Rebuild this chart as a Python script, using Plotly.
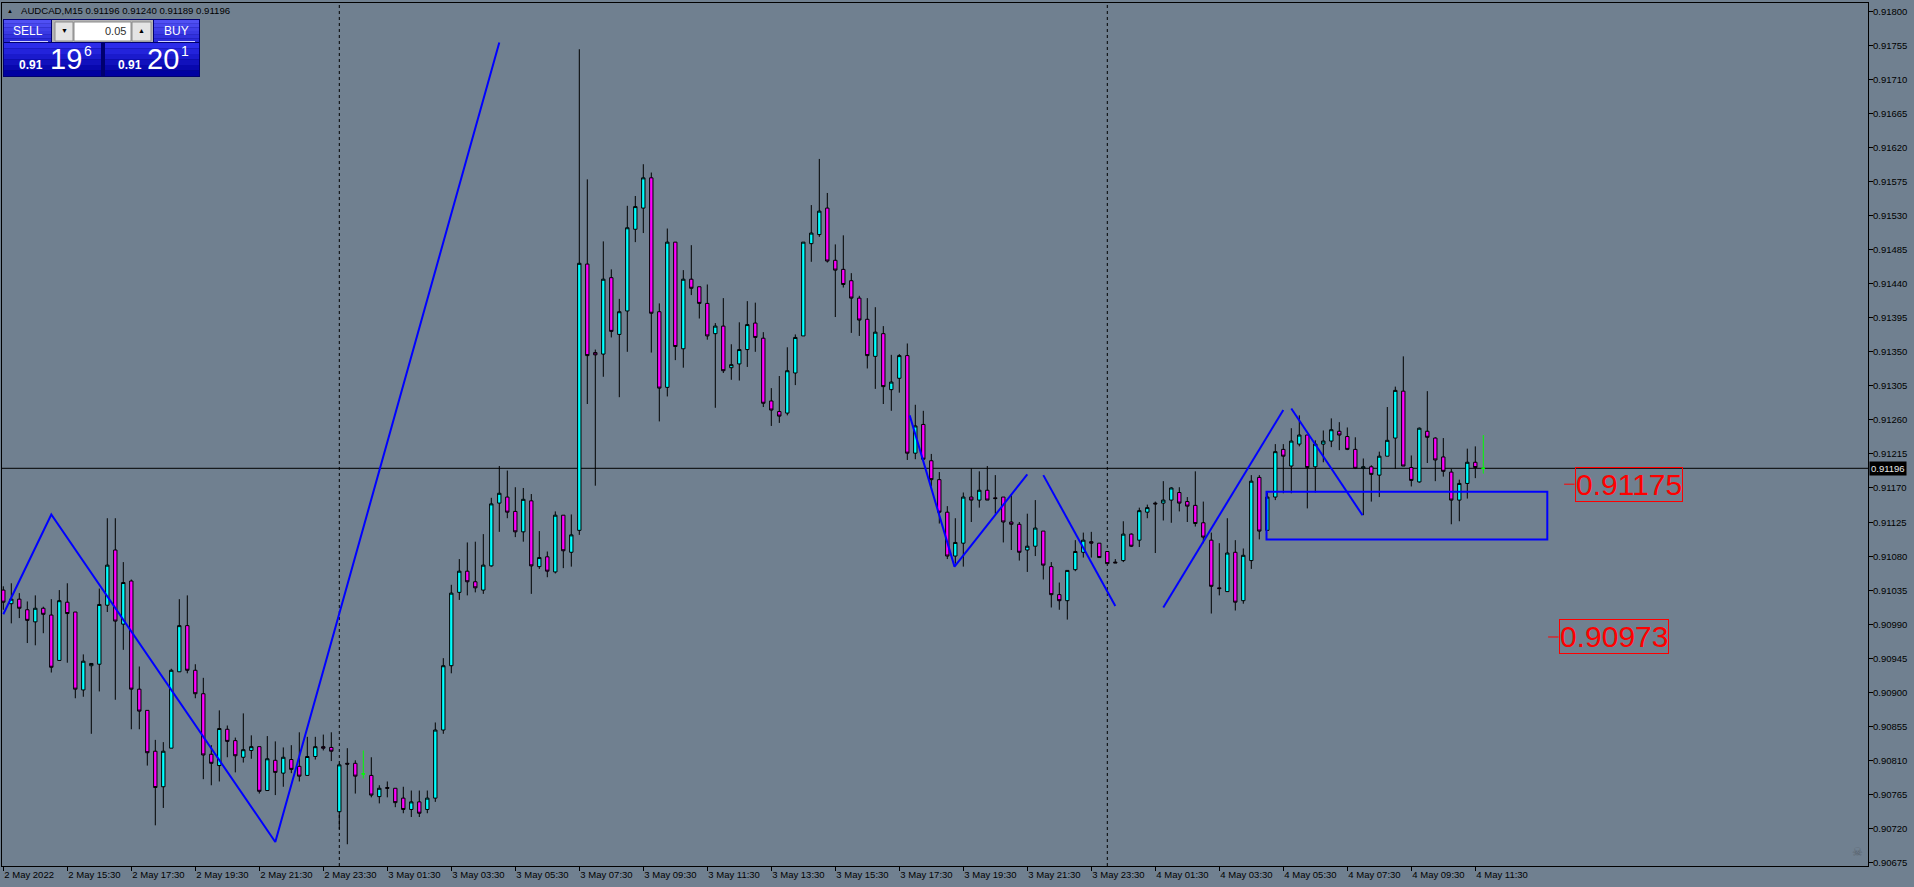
import plotly.graph_objects as go

# ---------------- DATA (AUDCAD M15) ----------------
open_ = [0.91035,0.91017,0.91023,0.91009,0.90993,0.91011,0.91002,0.90942,0.91019,0.91006,
         0.90903,0.90935,0.90937,0.91015,0.91088,0.90990,0.91047,0.90904,0.90876,0.90822,
         0.90775,0.90826,0.90927,0.90988,0.90929,0.90898,0.90818,0.90803,0.90851,0.90836,
         0.90814,0.90823,0.90828,0.90770,0.90810,0.90793,0.90811,0.90802,0.90790,0.90815,
         0.90828,0.90827,0.90742,0.90806,0.90806,0.90792,0.90790,0.90762,0.90774,0.90773,
         0.90760,0.90745,0.90755,0.90745,0.90760,0.90850,0.90935,0.91032,0.91060,0.91046,
         0.91035,0.91067,0.91150,0.91158,0.91139,0.91112,0.91153,0.91066,0.91079,0.91059,
         0.91134,0.91085,0.91114,0.91466,0.91349,0.91347,0.91448,0.91373,0.91404,0.91512,
         0.91540,0.91580,0.91403,0.91303,0.91495,0.91354,0.91446,0.91436,0.91414,0.91374,
         0.91384,0.91329,0.91334,0.91353,0.91388,0.91368,0.91285,0.91271,0.91269,0.91322,
         0.91371,0.91493,0.91505,0.91540,0.91471,0.91459,0.91444,0.91421,0.91393,0.91344,
         0.91374,0.91300,0.91315,0.91345,0.91216,0.91254,0.91206,0.91181,0.91138,0.91080,
         0.91097,0.91158,0.91154,0.91167,0.91157,0.91158,0.91125,0.91122,0.91088,0.91093,
         0.91113,0.91066,0.91029,0.91021,0.91062,0.91085,0.91099,0.91097,0.91086,0.91072,
         0.91074,0.91109,0.91101,0.91138,0.91150,0.91150,0.91154,0.91164,0.91152,0.91147,
         0.91124,0.91101,0.91038,0.91033,0.91085,0.91021,0.91074,0.91184,0.91114,0.91158,
         0.91221,0.91199,0.91228,0.91240,0.91198,0.91228,0.91232,0.91245,0.91238,0.91221,
         0.91196,0.91198,0.91187,0.91212,0.91236,0.91298,0.91197,0.91178,0.91245,0.91236,
         0.91211,0.91191,0.91154,0.91176,0.91204,0.91196]
high = [0.91040,0.91044,0.91031,0.91020,0.91028,0.91013,0.91023,0.91035,0.91044,0.91006,
        0.90950,0.90938,0.91037,0.91130,0.91130,0.91072,0.91049,0.90934,0.90876,0.90837,
        0.90834,0.90931,0.91023,0.91028,0.90937,0.90919,0.90830,0.90876,0.90856,0.90840,
        0.90872,0.90843,0.90828,0.90842,0.90835,0.90827,0.90830,0.90847,0.90841,0.90841,
        0.90844,0.90847,0.90806,0.90826,0.90810,0.90823,0.90814,0.90777,0.90782,0.90773,
        0.90775,0.90770,0.90770,0.90770,0.90860,0.90945,0.91042,0.91076,0.91098,0.91099,
        0.91109,0.91157,0.91199,0.91193,0.91171,0.91170,0.91162,0.91113,0.91086,0.91139,
        0.91134,0.91135,0.91750,0.91578,0.91353,0.91496,0.91459,0.91420,0.91543,0.91556,
        0.91598,0.91587,0.91414,0.91513,0.91495,0.91458,0.91491,0.91436,0.91439,0.91388,
        0.91421,0.91360,0.91389,0.91417,0.91415,0.91376,0.91302,0.91318,0.91356,0.91373,
        0.91495,0.91544,0.91605,0.91560,0.91492,0.91504,0.91454,0.91424,0.91421,0.91409,
        0.91384,0.91346,0.91347,0.91361,0.91280,0.91272,0.91215,0.91191,0.91146,0.91130,
        0.91164,0.91196,0.91192,0.91199,0.91187,0.91158,0.91162,0.91125,0.91136,0.91154,
        0.91113,0.91072,0.91045,0.91061,0.91101,0.91111,0.91112,0.91097,0.91086,0.91076,
        0.91126,0.91110,0.91144,0.91148,0.91152,0.91179,0.91171,0.91171,0.91158,0.91192,
        0.91152,0.91111,0.91097,0.91130,0.91101,0.91090,0.91187,0.91187,0.91164,0.91228,
        0.91228,0.91249,0.91266,0.91240,0.91233,0.91246,0.91262,0.91257,0.91250,0.91237,
        0.91209,0.91200,0.91218,0.91277,0.91304,0.91344,0.91213,0.91250,0.91298,0.91237,
        0.91236,0.91195,0.91181,0.91222,0.91225,0.91240]
low = [0.91009,0.90991,0.90998,0.90965,0.90962,0.90978,0.90926,0.90942,0.90939,0.90892,
       0.90894,0.90845,0.90901,0.91006,0.90890,0.90956,0.90851,0.90851,0.90803,0.90724,
       0.90747,0.90826,0.90927,0.90925,0.90892,0.90785,0.90777,0.90782,0.90814,0.90794,
       0.90807,0.90812,0.90766,0.90770,0.90764,0.90775,0.90793,0.90782,0.90790,0.90811,
       0.90823,0.90809,0.90719,0.90699,0.90766,0.90786,0.90761,0.90753,0.90761,0.90748,
       0.90740,0.90735,0.90735,0.90740,0.90755,0.90845,0.90925,0.91022,0.91028,0.91032,
       0.91030,0.91066,0.91112,0.91130,0.91105,0.91099,0.91030,0.91063,0.91052,0.91057,
       0.91064,0.91066,0.91108,0.91281,0.91173,0.91317,0.91369,0.91290,0.91350,0.91495,
       0.91507,0.91349,0.91258,0.91291,0.91339,0.91329,0.91425,0.91394,0.91366,0.91276,
       0.91322,0.91313,0.91312,0.91330,0.91350,0.91277,0.91252,0.91256,0.91266,0.91306,
       0.91371,0.91469,0.91502,0.91468,0.91396,0.91435,0.91375,0.91371,0.91328,0.91301,
       0.91281,0.91272,0.91296,0.91207,0.91208,0.91208,0.91172,0.91123,0.91076,0.91070,
       0.91066,0.91125,0.91144,0.91154,0.91136,0.91098,0.91088,0.91074,0.91059,0.91080,
       0.91049,0.91012,0.91009,0.90996,0.91060,0.91078,0.91078,0.91078,0.91070,0.91071,
       0.91072,0.91092,0.91092,0.91130,0.91084,0.91127,0.91124,0.91139,0.91125,0.91119,
       0.91097,0.91004,0.91028,0.91033,0.91008,0.91017,0.91063,0.91102,0.91114,0.91154,
       0.91163,0.91163,0.91225,0.91143,0.91164,0.91204,0.91224,0.91220,0.91220,0.91195,
       0.91134,0.91152,0.91158,0.91212,0.91195,0.91199,0.91172,0.91177,0.91203,0.91179,
       0.91185,0.91122,0.91126,0.91156,0.91183,0.91189]
close = [0.91019,0.91023,0.91011,0.90995,0.91011,0.91003,0.90933,0.91021,0.91004,0.90904,
         0.90941,0.90938,0.91016,0.91068,0.90994,0.91045,0.90904,0.90875,0.90820,0.90774,
         0.90822,0.90929,0.90988,0.90929,0.90898,0.90817,0.90806,0.90852,0.90835,0.90816,
         0.90824,0.90828,0.90769,0.90812,0.90794,0.90814,0.90798,0.90789,0.90815,0.90828,
         0.90826,0.90822,0.90804,0.90805,0.90789,0.90792,0.90764,0.90773,0.90773,0.90754,
         0.90745,0.90755,0.90740,0.90760,0.90850,0.90935,0.91031,0.91060,0.91046,0.91038,
         0.91068,0.91149,0.91163,0.91138,0.91112,0.91155,0.91067,0.91078,0.91060,0.91134,
         0.91087,0.91108,0.91467,0.91345,0.91346,0.91446,0.91377,0.91403,0.91514,0.91542,
         0.91580,0.91401,0.91302,0.91495,0.91357,0.91446,0.91434,0.91414,0.91371,0.91384,
         0.91325,0.91333,0.91353,0.91386,0.91369,0.91282,0.91273,0.91265,0.91325,0.91369,
         0.91495,0.91507,0.91536,0.91470,0.91458,0.91439,0.91421,0.91392,0.91345,0.91376,
         0.91304,0.91310,0.91345,0.91216,0.91252,0.91208,0.91181,0.91138,0.91080,0.91098,
         0.91158,0.91154,0.91167,0.91154,0.91156,0.91125,0.91122,0.91085,0.91093,0.91117,
         0.91068,0.91029,0.91021,0.91061,0.91086,0.91101,0.91097,0.91078,0.91070,0.91071,
         0.91109,0.91093,0.91140,0.91144,0.91149,0.91154,0.91170,0.91150,0.91146,0.91123,
         0.91105,0.91040,0.91037,0.91084,0.91019,0.91081,0.91179,0.91113,0.91158,0.91218,
         0.91212,0.91232,0.91240,0.91197,0.91228,0.91232,0.91247,0.91240,0.91221,0.91196,
         0.91198,0.91188,0.91212,0.91233,0.91299,0.91199,0.91180,0.91249,0.91237,0.91207,
         0.91192,0.91154,0.91176,0.91204,0.91197,0.91196]
green_doji = [45, 185]

x_tick_pos = [0, 8, 16, 24, 32, 40, 48, 56, 64, 72, 80, 88, 96, 104, 112, 120,
              128, 136, 144, 152, 160, 168, 176, 184]
x_tick_text = ["2 May 2022", "2 May 15:30", "2 May 17:30", "2 May 19:30", "2 May 21:30",
               "2 May 23:30", "3 May 01:30", "3 May 03:30", "3 May 05:30", "3 May 07:30",
               "3 May 09:30", "3 May 11:30", "3 May 13:30", "3 May 15:30", "3 May 17:30",
               "3 May 19:30", "3 May 21:30", "3 May 23:30", "4 May 01:30", "4 May 03:30",
               "4 May 05:30", "4 May 07:30", "4 May 09:30", "4 May 11:30"]
price_ticks = [0.90675, 0.90720, 0.90765, 0.90810, 0.90855, 0.90900, 0.90945, 0.90990,
               0.91035, 0.91080, 0.91125, 0.91170, 0.91215, 0.91260, 0.91305, 0.91350,
               0.91395, 0.91440, 0.91485, 0.91530, 0.91575, 0.91620, 0.91665, 0.91710,
               0.91755, 0.91800]
day_separators = [42, 138]
bid_price = 0.91196

zigzag_a_x = [0, 6, 34, 62]
zigzag_a_y = [0.91003, 0.91135, 0.90702, 0.91759]
zigzag_b_x = [113.3, 118.9, 128.0]
zigzag_b_y = [0.91266, 0.91066, 0.91188]
line_c_x = [130.0, 139.0]
line_c_y = [0.91187, 0.91014]
line_d_x = [145.0, 160.0]
line_d_y = [0.91012, 0.91273]
line_e_x = [161.0, 169.9]
line_e_y = [0.91275, 0.91134]
box_x = [157.9, 193.0]
box_y = [0.91102, 0.91165]
label_prices = [0.91175, 0.90973]
label_x = [196.4, 194.4]

# ---------------- LAYOUT GEOMETRY ----------------
W, H = 1914, 887
ML, MR, MT, MB = 2, 46, 3, 21
PW, PH = W - ML - MR, H - MT - MB
BG = "#708090"
FONT = "Liberation Sans, Arial, sans-serif"


def px(x):
    return (x - ML) / PW


def py(y):
    return 1 - (y - MT) / PH


fig = go.Figure()

idx_main = [i for i in range(len(open_)) if i not in green_doji]
fig.add_trace(go.Candlestick(
    x=idx_main,
    open=[open_[i] for i in idx_main], high=[high[i] for i in idx_main],
    low=[low[i] for i in idx_main], close=[close[i] for i in idx_main],
    increasing=dict(fillcolor="#00FFFF", line=dict(color="black", width=1)),
    decreasing=dict(fillcolor="#FF00FF", line=dict(color="black", width=1)),
    whiskerwidth=0, hoverinfo="skip", showlegend=False))
fig.add_trace(go.Candlestick(
    x=green_doji,
    open=[open_[i] for i in green_doji], high=[high[i] for i in green_doji],
    low=[low[i] for i in green_doji], close=[close[i] for i in green_doji],
    increasing=dict(fillcolor="#00FF00", line=dict(color="#00FF00", width=1)),
    decreasing=dict(fillcolor="#00FF00", line=dict(color="#00FF00", width=1)),
    whiskerwidth=0, hoverinfo="skip", showlegend=False))

for xs, ys in [(zigzag_a_x, zigzag_a_y), (zigzag_b_x, zigzag_b_y), (line_c_x, line_c_y),
               (line_d_x, line_d_y), (line_e_x, line_e_y)]:
    fig.add_trace(go.Scatter(x=xs, y=ys, mode="lines", line=dict(color="#0000FF", width=2),
                             hoverinfo="skip", showlegend=False))

shapes = []
for d in day_separators:
    shapes.append(dict(type="line", xref="x", yref="paper", x0=d, x1=d, y0=0, y1=1,
                       line=dict(color="black", width=1, dash="3px,3px"), layer="below"))
shapes.append(dict(type="line", xref="paper", yref="y", x0=0, x1=1, y0=bid_price, y1=bid_price,
                   line=dict(color="black", width=1), layer="below"))
shapes.append(dict(type="rect", xref="x", yref="y", x0=box_x[0], x1=box_x[1],
                   y0=box_y[0], y1=box_y[1], line=dict(color="#0000FF", width=2)))

annotations = []
for p, lx in zip(label_prices, label_x):
    shapes.append(dict(type="line", xref="x", yref="y", x0=lx - 1.3, x1=lx, y0=p, y1=p,
                       line=dict(color="red", width=1)))
    annotations.append(dict(xref="x", yref="y", x=lx, y=p, text=f"{p:.5f}", showarrow=False,
                            xanchor="left", yanchor="middle", font=dict(family=FONT, size=30, color="red"),
                            bordercolor="red", borderwidth=1, borderpad=0))


def grad_rect(x0, y0, x1, y1, c_top, c_bot, n=6):
    def hx(c):
        return [int(c[i:i + 2], 16) for i in (1, 3, 5)]
    a, b = hx(c_top), hx(c_bot)
    h = (y1 - y0) / n
    for k in range(n):
        t = k / (n - 1)
        col = "#%02x%02x%02x" % tuple(int(a[j] + (b[j] - a[j]) * t) for j in range(3))
        shapes.append(dict(type="rect", xref="paper", yref="paper", x0=px(x0), x1=px(x1),
                           y0=py(y0 + h * (k + 1)), y1=py(y0 + h * k), line=dict(width=0),
                           fillcolor=col, layer="above"))


def prect(x0, y0, x1, y1, fill, line=None):
    shapes.append(dict(type="rect", xref="paper", yref="paper", x0=px(x0), x1=px(x1),
                       y0=py(y1), y1=py(y0), fillcolor=fill,
                       line=dict(width=1 if line else 0, color=line or fill), layer="above"))


def ptext(x, y, text, size, color="white", anchor="center", bold=False, family=FONT):
    if bold:
        text = f"<b>{text}</b>"
    annotations.append(dict(xref="paper", yref="paper", x=px(x), y=py(y), text=text,
                            showarrow=False, xanchor=anchor, yanchor="middle",
                            font=dict(family=family, size=size, color=color)))


# one-click trading panel
prect(3, 19, 200, 77, "#000070")
grad_rect(4, 20, 51, 42, "#5050f4", "#2a2ad8")
grad_rect(154, 20, 199, 42, "#5050f4", "#2a2ad8")
grad_rect(4, 43, 101, 76, "#2c2cea", "#0000a0")
grad_rect(105, 43, 199, 76, "#2c2cea", "#0000a0")
prect(52, 20, 153, 42, "#b4b4b4")
prect(55, 22, 73, 41, "#e4e4e4", "#8c8c8c")
prect(74, 22, 131, 41, "#ffffff", "#8c8c8c")
prect(132, 22, 151, 41, "#e4e4e4", "#8c8c8c")
shapes.append(dict(type="line", xref="paper", yref="paper", x0=px(10), x1=px(48), y0=py(41.5), y1=py(41.5),
                   line=dict(color="#d0d0ff", width=1)))
shapes.append(dict(type="line", xref="paper", yref="paper", x0=px(158), x1=px(195), y0=py(41.5), y1=py(41.5),
                   line=dict(color="#d0d0ff", width=1)))
ptext(28, 31, "SELL", 12)
ptext(176, 31, "BUY", 12)
ptext(64, 31, "▼", 7, color="black")
ptext(141, 31, "▲", 7, color="black")
ptext(128, 31, "0.05", 11, color="#303030", anchor="right")
ptext(31, 65, "0.91", 12, bold=True)
ptext(66, 59, "19", 29)
ptext(88, 51, "6", 14)
ptext(130, 65, "0.91", 12, bold=True)
ptext(163, 59, "20", 29)
ptext(185, 51, "1", 14)

# header
ptext(9.5, 10.5, "▲", 6, color="black")
ptext(19, 10.5, "AUDCAD,M15 0.91196 0.91240 0.91189 0.91196", 9.6, color="black", anchor="left")

# skull icon
ptext(1857, 852, "☠", 12, color="#59636e", family="DejaVu Sans")

# price labels on right axis
for v in price_ticks:
    annotations.append(dict(xref="paper", yref="y", x=1, y=v, xshift=3, text=f"{v:.5f}",
                            showarrow=False, xanchor="left", yanchor="middle",
                            font=dict(family=FONT, size=9.5, color="black")))
# current price label on axis
annotations.append(dict(xref="paper", yref="y", x=1, y=bid_price, xshift=1, text=f"{bid_price:.5f}",
                        showarrow=False, xanchor="left", yanchor="middle", bgcolor="black",
                        font=dict(family=FONT, size=9.5, color="#e6e6e6"), borderpad=1))

x_lo = (ML - 3.3) / 8
x_hi = x_lo + PW / 8
y_top = 0.918151 - 0.00001322 * MT
y_bot = 0.918151 - 0.00001322 * (H - MB)

fig.update_layout(
    width=W, height=H, margin=dict(l=ML, r=MR, t=MT, b=MB, pad=0),
    paper_bgcolor=BG, plot_bgcolor=BG, boxgap=0.4,
    shapes=shapes, annotations=annotations, showlegend=False,
    xaxis=dict(range=[x_lo, x_hi], rangeslider=dict(visible=False), showgrid=False, zeroline=False,
               showline=True, linecolor="black", linewidth=1, mirror=True,
               tickmode="array", tickvals=x_tick_pos, ticktext=x_tick_text,
               ticks="outside", ticklen=4, tickcolor="black", tickwidth=1,
               ticklabelposition="outside right",
               tickfont=dict(family=FONT, size=9.5, color="black")),
    yaxis=dict(range=[y_bot, y_top], side="right", showgrid=False, zeroline=False,
               showline=True, linecolor="black", linewidth=1, mirror=True,
               tickmode="array", tickvals=price_ticks, showticklabels=False,
               ticks="outside", ticklen=4, tickcolor="black", tickwidth=1),
)

fig.write_html("out.html", config={"displayModeBar": False},
               post_script="document.body.style.margin='0px';document.body.style.overflow='hidden';")
